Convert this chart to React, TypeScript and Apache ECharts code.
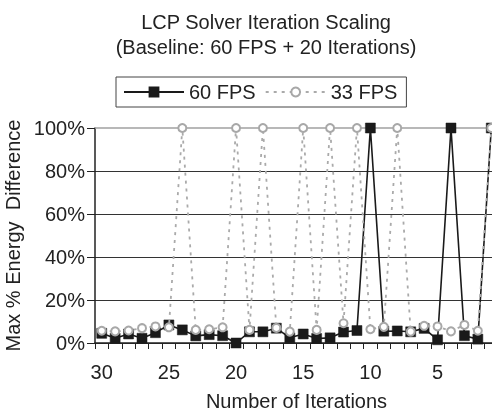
import React, { useEffect, useRef } from "react";
import * as echarts from "echarts";

const categories = ["30","29","28","27","26","25","24","23","22","21","20","19","18","17","16","15","14","13","12","11","10","9","8","7","6","5","4","3","2","1"];
const fps60 = [4.5, 2.2, 4.2, 2.2, 4.8, 8.4, 6.1, 3.3, 3.9, 3.4, 0, 5.2, 5.2, 6.9, 2.4, 4.2, 2.1, 2.4, 5.1, 5.8, 100, 5.5, 5.6, 5.2, 6.8, 1.5, 100, 3.4, 1.8, 100];
const fps33 = [5.7, 5.4, 5.8, 6.9, 7.7, 7.3, 100, 6.1, 6.4, 7.3, 100, 6.1, 100, 7.0, 5.3, 100, 6.1, 100, 9.2, 100, 6.4, 7.5, 100, 5.3, 8.0, 7.7, 5.4, 8.4, 5.7, 100];
const yTicks = [0, 20, 40, 60, 80, 100];
const titleLines = ["LCP Solver Iteration Scaling", "(Baseline: 60 FPS + 20 Iterations)"];
const seriesNames = ["60 FPS", "33 FPS"];

const FONT = '"Liberation Sans", Arial, Helvetica, sans-serif';

export default function App() {
  const ref = useRef<HTMLDivElement>(null);
  useEffect(() => {
    if (!ref.current) return;
    const chart = echarts.init(ref.current, undefined, { renderer: "svg" });
    chart.setOption({
      animation: false,
      textStyle: { fontFamily: FONT, color: "#222" },
      graphic: [
        { type: "text", x: 266, y: 21.5, style: { text: titleLines[0], font: `20px ${FONT}`, fill: "#222", textAlign: "center", textVerticalAlign: "middle" } },
        { type: "text", x: 266, y: 47, style: { text: titleLines[1], font: `20px ${FONT}`, fill: "#222", textAlign: "center", textVerticalAlign: "middle" } },
      ],
      legend: {
        left: 116,
        top: 77,
        padding: [5, 9, 5, 7],
        itemGap: 9,
        itemWidth: 60,
        itemHeight: 11,
        borderColor: "#444",
        borderWidth: 1,
        textStyle: { fontSize: 20, color: "#222", fontFamily: FONT },
        data: seriesNames,
      },
      grid: { left: 95, top: 128, width: 403, height: 215, outerBoundsMode: "none", containLabel: false },
      xAxis: {
        type: "category",
        data: categories,
        boundaryGap: true,
        name: "Number of Iterations",
        nameLocation: "middle",
        nameGap: 48,
        nameTextStyle: { fontSize: 20, color: "#222", fontFamily: FONT },
        axisLine: { lineStyle: { color: "#222", width: 1.5 } },
        axisTick: { show: true, length: 6, interval: 0, lineStyle: { color: "#222", width: 1 } },
        axisLabel: { interval: 4, margin: 19, fontSize: 20, color: "#222", fontFamily: FONT },
        splitLine: { show: false },
      },
      yAxis: {
        type: "value",
        min: yTicks[0],
        max: yTicks[yTicks.length - 1],
        interval: 20,
        name: "Max % Energy  Difference",
        nameLocation: "middle",
        nameGap: 64,
        nameTextStyle: { fontSize: 20, color: "#222", fontFamily: FONT },
        axisLine: { show: true, lineStyle: { color: "#222", width: 1.5 } },
        axisTick: { show: true, length: 8, lineStyle: { color: "#222", width: 1 } },
        axisLabel: { formatter: "{value}%", margin: 10, fontSize: 20, color: "#222", fontFamily: FONT },
        splitLine: { show: true, showMaxLine: false, lineStyle: { color: "#333", width: 1 } },
      },
      series: [
        {
          name: seriesNames[0],
          type: "line",
          data: fps60,
          symbol: "rect",
          symbolSize: 10,
          showAllSymbol: true,
          lineStyle: { color: "#1a1a1a", width: 1.6 },
          itemStyle: { color: "#1a1a1a", borderColor: "#1a1a1a", borderWidth: 0.5 },
          markLine: {
            silent: true,
            symbol: "none",
            label: { show: false },
            lineStyle: { color: "#a0a0a0", width: 1.5, type: "solid" },
            data: [{ yAxis: yTicks[yTicks.length - 1] }],
            z: 1,
          },
          z: 2,
        },
        {
          name: seriesNames[1],
          type: "line",
          data: fps33,
          symbol: "circle",
          symbolSize: 8,
          showAllSymbol: true,
          lineStyle: { color: "#aaaaaa", width: 1.8, type: [3, 5] },
          itemStyle: { color: "#ffffff", borderColor: "#a8a8a8", borderWidth: 2 },
          z: 3,
        },
      ],
    });
    return () => chart.dispose();
  }, []);
  return <div ref={ref} style={{ position: "fixed", left: 0, top: 0, width: 492, height: 411 }} />;
}
